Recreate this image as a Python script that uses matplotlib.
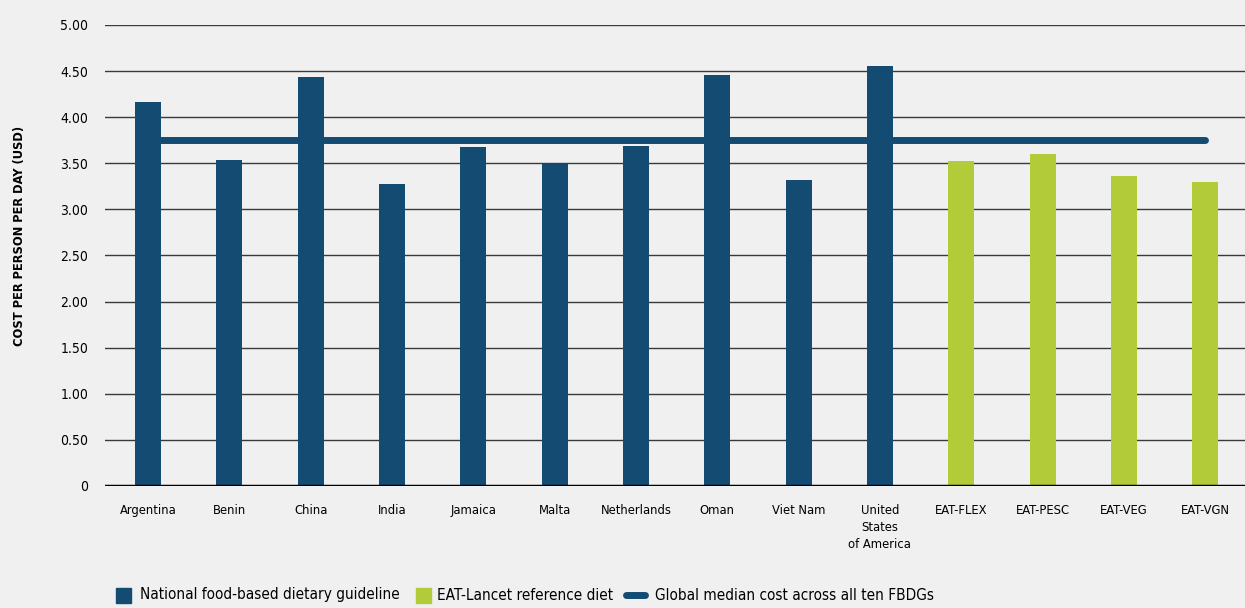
import matplotlib
matplotlib.use('Agg')
import matplotlib.pyplot as plt
from matplotlib.patches import Rectangle
from matplotlib.lines import Line2D
import numpy as np

plt.rcParams['font.family'] = ['DejaVu Sans']
plt.rcParams['font.stretch'] = 'condensed'

countries = ['Argentina', 'Benin', 'China', 'India', 'Jamaica', 'Malta', 'Netherlands',
             'Oman', 'Viet Nam', 'United\nStates\nof America']
country_cost = [4.17, 3.54, 4.44, 3.27, 3.68, 3.49, 3.69, 4.46, 3.32, 4.56]
eat_diets = ['EAT-FLEX', 'EAT-PESC', 'EAT-VEG', 'EAT-VGN']
eat_cost = [3.53, 3.60, 3.36, 3.30]
median_cost = 3.75

blue = '#134b73'
green = '#b1cb39'
bg = '#f0f0f0'

labels = countries + eat_diets
x = np.arange(len(labels))

W, H = 1245, 608
fig = plt.figure(figsize=(12.45, 6.08), dpi=100, facecolor=bg)
ax = fig.add_axes([0.0843, 0.2007, 0.9157, 0.7582], facecolor=bg)

ax.bar(x[:len(countries)], country_cost, width=0.32, color=blue, zorder=3)
ax.bar(x[len(countries):], eat_cost, width=0.32, color=green, zorder=3)
ax.plot([x[0], x[-1]], [median_cost, median_cost], color=blue, lw=5,
        solid_capstyle='round', zorder=4)

ax.set_xlim(-0.53, 13.49)
ax.set_ylim(0, 5)
yt = np.arange(0, 5.01, 0.5)
ax.set_yticks(yt)
ax.set_yticklabels(['0'] + ['%.2f' % v for v in yt[1:]], fontsize=10)
ax.set_xticks(x)
ax.set_xticklabels(labels, fontsize=9.3, linespacing=1.4, va='top')
ax.tick_params(axis='x', length=0, pad=13)
ax.tick_params(axis='y', length=0, pad=12)
for v in yt[1:]:
    ax.axhline(v, color='#3a3a3a', lw=1.0, zorder=1)
ax.axhline(0, color='black', lw=2.5, zorder=5)
for s in ax.spines.values():
    s.set_visible(False)

fig.text(20 / W, 1 - 236 / H, 'COST PER PERSON PER DAY (USD)', fontsize=9.2, fontweight='bold',
         rotation=90, ha='center', va='center')

# legend drawn by hand so the items sit where the reference has them
ly = 1 - 595 / H
fig.add_artist(Rectangle((116 / W, 1 - 603 / H), 15 / W, 15 / H, color=blue,
                         transform=fig.transFigure))
fig.text(140 / W, ly, 'National food-based dietary guideline', fontsize=11, va='center')
fig.add_artist(Rectangle((416 / W, 1 - 603 / H), 15 / W, 15 / H, color=green,
                         transform=fig.transFigure))
fig.text(437 / W, ly, 'EAT-Lancet reference diet', fontsize=11, va='center')
fig.add_artist(Line2D([626 / W, 645 / W], [ly, ly], color=blue, lw=5,
                      solid_capstyle='round', transform=fig.transFigure))
fig.text(655 / W, ly, 'Global median cost across all ten FBDGs', fontsize=11, va='center')

plt.savefig('out.png', dpi=100, facecolor=bg)
